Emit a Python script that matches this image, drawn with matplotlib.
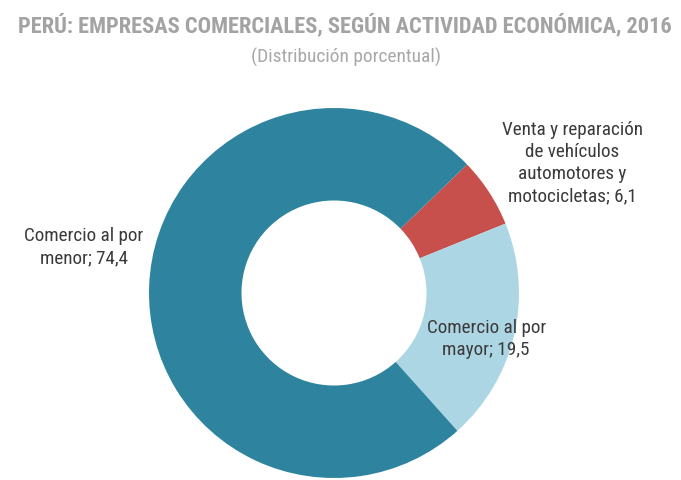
import matplotlib
matplotlib.use('Agg')
import matplotlib.pyplot as plt
from matplotlib import font_manager

# data
labels = ['Venta y reparación\nde vehículos\nautomotores y\nmotocicletas; 6,1',
          'Comercio al por\nmayor; 19,5',
          'Comercio al por\nmenor; 74,4']
values = [6.1, 19.5, 74.4]
colors = ['#C8504C', '#ADD6E4', '#2E849F']
title = 'PERÚ: EMPRESAS COMERCIALES, SEGÚN ACTIVIDAD ECONÓMICA, 2016'
subtitle = '(Distribución porcentual)'

W, H = 681, 481
cx, cy, r = 334, 294, 185  # donut center / radius in pixels

# pick a narrow font if there is one
installed = {f.name for f in font_manager.fontManager.ttflist}
narrow = 'DejaVu Sans'
for name in ['Liberation Sans Narrow', 'Roboto Condensed', 'DejaVu Sans Condensed',
             'Open Sans Condensed', 'Roboto', 'Liberation Sans']:
    if name in installed:
        narrow = name
        break
fam = [narrow, 'DejaVu Sans']

fig = plt.figure(figsize=(W / 100, H / 100), dpi=100)
ax = fig.add_axes([0, 0, 1, 1])
ax.pie(values, colors=colors, startangle=44, counterclock=False,
       radius=1, wedgeprops=dict(width=0.5, edgecolor='none'))
ax.set_xlim(-cx / r, (W - cx) / r)
ax.set_ylim(-(H - cy) / r, cy / r)
ax.set_aspect('equal')
ax.axis('off')

renderer = fig.canvas.get_renderer()


def fit(t, target):
    # scale font so the text is about as wide as in the reference
    w = t.get_window_extent(renderer).width
    t.set_fontsize(t.get_fontsize() * target / w)


t1 = fig.text(0.507, 0.948, title, ha='center', va='center', fontsize=16,
              fontweight='bold', color='#A3A3A3', family=fam)
fit(t1, 655)
t2 = fig.text(0.508, 0.881, subtitle, ha='center', va='center',
              fontsize=12, color='#A8A8A8', family=fam)
fit(t2, 190)

lab_pos = [(0.840, 0.661), (0.714, 0.295), (0.123, 0.487)]
probe = fig.text(0, 0, 'Comercio al por', fontsize=12, family=fam)
fit(probe, 120)
fs = probe.get_fontsize()
probe.remove()
for lab, (x, y) in zip(labels, lab_pos):
    fig.text(x, y, lab, ha='center', va='center', fontsize=fs,
             color='#3A3A3A', family=fam, linespacing=1.3)

fig.savefig('out.png', dpi=100)
